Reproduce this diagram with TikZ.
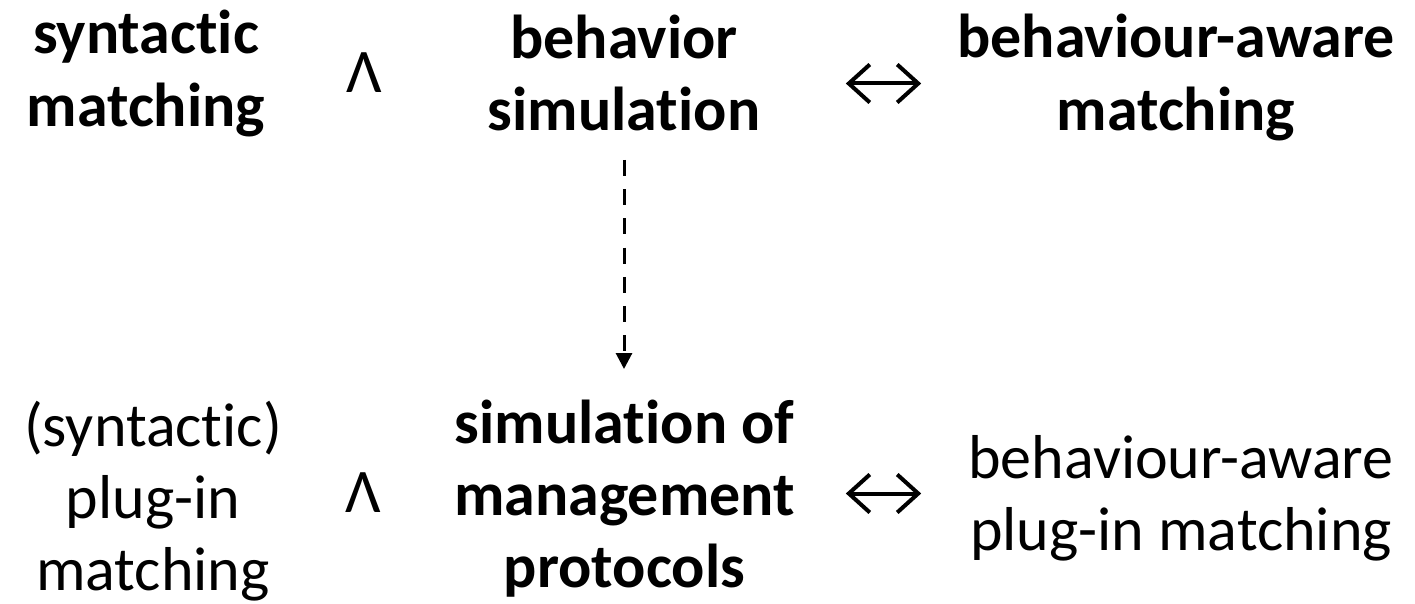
\documentclass[tikz,border=0pt]{standalone}
\usepackage{fontspec}
\setmainfont{Carlito}[Ligatures=NoCommon]
\usetikzlibrary{arrows.meta}

% text block: centred lines, first baseline at the node's base anchor
\newcommand{\lines}[2]{{\fontsize{62}{#1}\selectfont\begin{tabular}[t]{@{}c@{}}#2\end{tabular}}}

\begin{document}
\begin{tikzpicture}[x=1pt,y=1pt,
  textblock/.style={inner sep=0pt,anchor=base},
  opsym/.style={inner sep=0pt,anchor=base,font=\fontsize{62}{74}\selectfont},
  iffsym/.style={inner sep=0pt,minimum width=69pt,minimum height=38pt},
  iffline/.style={line width=4pt,line cap=butt,line join=miter},
  dasharrow/.style={line width=3pt,dash pattern=on 16pt off 13.2pt,
    -{Triangle[length=16pt,width=16pt]}}]
\useasboundingbox (0,0) rectangle (1415,603);

% upper row
\node[textblock] (sm)  at (146,549)  {\bfseries\lines{73}{syntactic\\matching}};
\node[opsym]     (and1) at (364,510) {Λ};
\node[textblock] (bs)  at (624,544)  {\bfseries\lines{72}{behavior\\simulation}};
\node[iffsym]    (iff1) at (883.5,519.5) {};
\node[textblock] (bam) at (1176,545) {\bfseries\lines{73}{behaviour-aware\\matching}};

% lower row
\node[textblock] (spm) at (153,157)  {\lines{72}{(syntactic)\\plug-in\\matching}};
\node[opsym]     (and2) at (363.5,91) {Λ};
\node[textblock] (smp) at (624.5,160) {\bfseries\lines{72}{simulation of\\management\\protocols}};
\node[iffsym]    (iff2) at (883.5,109.5) {};
\node[textblock] (bpm) at (1181,125) {\lines{72}{behaviour-aware\\plug-in matching}};

% double arrows
\foreach \n in {iff1,iff2}{
  \draw[iffline] (\n.west) -- (\n.east);
  \draw[iffline] ([shift={(21,19)}]\n.west) -- (\n.west) -- ([shift={(21,-19)}]\n.west);
  \draw[iffline] ([shift={(-21,19)}]\n.east) -- (\n.east) -- ([shift={(-21,-19)}]\n.east);
}

% refinement arrow
\coordinate (top) at (bs.south |- 0,443);
\coordinate (bot) at (bs.south |- 0,234);
\draw[dasharrow] (top) -- (bot);
\end{tikzpicture}
\end{document}
